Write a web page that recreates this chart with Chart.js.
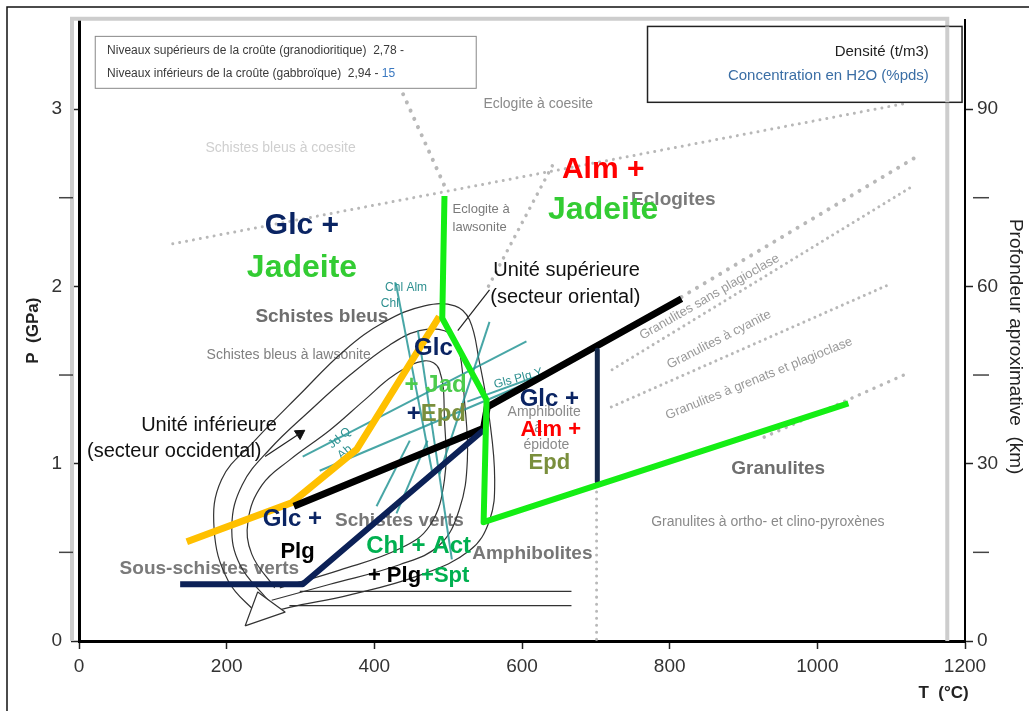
<!DOCTYPE html>
<html>
<head>
<meta charset="utf-8">
<script src="https://cdn.jsdelivr.net/npm/chart.js@4.4.1/dist/chart.umd.min.js"></script>
<style>
  html, body { margin: 0; padding: 0; background: #fff; overflow: hidden; }
  canvas { display: block; }
</style>
</head>
<body>
<canvas id="pt" width="1029" height="711"></canvas>
<script>
const FONT = "'Liberation Sans', Arial, Helvetica, sans-serif";

// ---- Axis ticks ----
const tempTicks = [0, 200, 400, 600, 800, 1000, 1200];      // °C
const pressureTicks = [0, 1, 2, 3];                          // GPa
const pressureMinorTicks = [0.5, 1.5, 2.5];
const depthTicks = [0, 30, 60, 90];                          // km
const depthMinorTicks = [15, 45, 75];

// ---- P-T paths (T in °C, P in GPa) ----
const yellowT = [146, 288, 376, 488];
const yellowP = [0.56, 0.78, 1.08, 1.83];
const blackT = [291, 548, 553, 816];
const blackP = [0.76, 1.20, 1.32, 1.93];
const navyT = [137, 303, 548];
const navyP = [0.32, 0.32, 1.19];
const navyBarT = [702, 702];
const navyBarP = [1.64, 0.90];
const greenT = [495, 492, 552, 548, 1042];
const greenP = [2.51, 1.82, 1.36, 0.67, 1.34];

// ---- Facies boundaries (dotted) ----
const coesiteBoundT = [127, 1117];
const coesiteBoundP = [2.24, 3.03];
const lawsoniteBoundT = [434, 498];
const lawsoniteBoundP = [3.13, 2.54];
const eclogiteBoundT = [641, 552];
const eclogiteBoundP = [2.68, 1.98];
const granPlagFreeT = [816, 1134];
const granPlagFreeP = [1.94, 2.73];
const granKyaniteT = [722, 1131];
const granKyaniteP = [1.53, 2.57];
const granGarnetT = [721, 1097];
const granGarnetP = [1.32, 2.01];
const granPyroxT = [928, 1117];
const granPyroxP = [1.15, 1.50];
const amphGranT = [701, 701];
const amphGranP = [0.88, 0.01];

// ---- Published P-T loops (thin lines) ----
const loopOuterT = [242, 202, 183, 193, 238, 299, 360, 414, 468, 509, 529, 542, 556, 563, 556, 529, 461, 367, 285, 248];
const loopOuterP = [0.15, 0.34, 0.63, 0.91, 1.13, 1.39, 1.64, 1.80, 1.89, 1.89, 1.81, 1.58, 1.25, 0.91, 0.68, 0.51, 0.37, 0.26, 0.19, 0.15];
const loopMidT = [256, 218, 207, 221, 258, 313, 367, 421, 461, 495, 513, 522, 526, 515, 488, 434, 340, 261];
const loopMidP = [0.23, 0.43, 0.65, 0.88, 1.08, 1.30, 1.50, 1.67, 1.75, 1.75, 1.67, 1.36, 1.02, 0.74, 0.54, 0.43, 0.32, 0.23];
const loopInnerT = [265, 234, 229, 248, 285, 340, 387, 427, 468, 488, 495, 495, 475, 434, 353, 272];
const loopInnerP = [0.30, 0.49, 0.68, 0.88, 1.02, 1.19, 1.36, 1.50, 1.58, 1.53, 1.25, 0.91, 0.65, 0.52, 0.40, 0.30];
const retroUpperT = [299, 667];
const retroUpperP = [0.28, 0.28];
const retroLowerT = [285, 667];
const retroLowerP = [0.20, 0.20];
const bigArrowT = [225, 242, 279, 225];
const bigArrowP = [0.085, 0.276, 0.163, 0.085];
const lowerPointerT = [252, 299];
const lowerPointerP = [1.04, 1.17];
const upperPointerT = [556, 513];
const upperPointerP = [1.98, 1.75];

// ---- Reaction curves (teal) ----
const reactions = [
  { T: [303, 606], P: [1.04, 1.69] },
  { T: [326, 644], P: [0.96, 1.52] },
  { T: [429, 478], P: [2.02, 0.96] },
  { T: [459, 505], P: [1.75, 0.46] },
  { T: [556, 488], P: [1.80, 0.94] },
  { T: [526, 645], P: [1.35, 1.53] },
  { T: [448, 403], P: [1.13, 0.76] },
  { T: [472, 430], P: [1.13, 0.72] }
];

const zip = (T, P) => T.map((t, i) => ({ x: t, y: P[i] }));

function path(T, P, opt) {
  return Object.assign({
    data: zip(T, P), showLine: true, pointRadius: 0, fill: false,
    borderJoinStyle: 'round', borderCapStyle: 'butt', tension: 0
  }, opt);
}
function dotted(T, P, w, gap, color) {
  return path(T, P, {
    borderColor: color || '#b8b8b8', borderWidth: w, borderDash: [0.01, gap],
    borderCapStyle: 'round', order: 20
  });
}

const datasets = [
  // thick paths (on top)
  path(greenT, greenP, { borderColor: '#14ee14', borderWidth: 6, order: 1 }),
  path(navyT, navyP, { borderColor: '#0c2157', borderWidth: 6, order: 2 }),
  path(blackT, blackP, { borderColor: '#000000', borderWidth: 7, order: 3 }),
  path(yellowT, yellowP, { borderColor: '#ffc000', borderWidth: 7, order: 4 }),
  path(navyBarT, navyBarP, { borderColor: '#14284a', borderWidth: 5, order: 2 }),
  // teal reaction curves
  ...reactions.map(r => path(r.T, r.P, { borderColor: 'rgba(40,150,150,0.85)', borderWidth: 2, order: 8 })),
  // thin loops and pointers
  path(loopOuterT, loopOuterP, { borderColor: '#333', borderWidth: 1.2, tension: 0.4, order: 9 }),
  path(loopMidT, loopMidP, { borderColor: '#333', borderWidth: 1.2, tension: 0.4, order: 9 }),
  path(loopInnerT, loopInnerP, { borderColor: '#333', borderWidth: 1.2, tension: 0.4, order: 9 }),
  path(retroUpperT, retroUpperP, { borderColor: '#333', borderWidth: 1.2, order: 9 }),
  path(retroLowerT, retroLowerP, { borderColor: '#333', borderWidth: 1.2, order: 9 }),
  path(bigArrowT, bigArrowP, { borderColor: '#333', borderWidth: 1.2, fill: 'shape', backgroundColor: '#ffffff', order: 7 }),
  path(lowerPointerT, lowerPointerP, { borderColor: '#222', borderWidth: 1.2, order: 9 }),
  path(upperPointerT, upperPointerP, { borderColor: '#222', borderWidth: 1.2, order: 9 }),
  { data: [{ x: lowerPointerT[1], y: lowerPointerP[1] }], showLine: false, pointStyle: 'triangle',
    pointRadius: 6, rotation: 57, backgroundColor: '#111', borderColor: '#111', order: 9 },
  // facies boundaries
  dotted(coesiteBoundT, coesiteBoundP, 3, 7),
  dotted(lawsoniteBoundT, lawsoniteBoundP, 4, 9),
  dotted(eclogiteBoundT, eclogiteBoundP, 3.5, 8),
  dotted(granPlagFreeT, granPlagFreeP, 4, 9),
  dotted(granKyaniteT, granKyaniteP, 3, 6),
  dotted(granGarnetT, granGarnetP, 3, 6),
  dotted(granPyroxT, granPyroxP, 3.5, 8),
  dotted(amphGranT, amphGranP, 3, 7)
];

// ---- Text annotations ----
const underLabels = [
  { t: 'Eclogite à coesite', T: 622, P: 3.03, size: 14, color: '#8a8a8a' },
  { t: 'Schistes bleus à coesite', T: 273, P: 2.78, size: 14, color: '#cfcfcf' },
  { t: 'Eclogite à', T: 506, P: 2.435, size: 13, color: '#7a7a7a', align: 'left' },
  { t: 'lawsonite', T: 506, P: 2.333, size: 13, color: '#7a7a7a', align: 'left' },
  { t: 'Eclogites', T: 805, P: 2.49, size: 19, bold: true, color: '#7a7a7a' },
  { t: 'Schistes bleus', T: 329, P: 1.83, size: 19, bold: true, color: '#6e6e6e' },
  { t: 'Schistes bleus à lawsonite', T: 284, P: 1.61, size: 14, color: '#808080' },
  { t: 'Amphibolite', T: 630, P: 1.29, size: 14, color: '#8a8a8a' },
  { t: 'à', T: 622, P: 1.20, size: 14, color: '#8a8a8a' },
  { t: 'épidote', T: 633, P: 1.105, size: 14, color: '#8a8a8a' },
  { t: 'Schistes verts', T: 434, P: 0.676, size: 19, bold: true, color: '#777' },
  { t: 'Amphibolites', T: 614, P: 0.49, size: 19, bold: true, color: '#777' },
  { t: 'Sous-schistes verts', T: 55, P: 0.41, size: 19, bold: true, color: '#7a7a7a', align: 'left' },
  { t: 'Granulites', T: 947, P: 0.969, size: 19, bold: true, color: '#6e6e6e' },
  { t: 'Granulites à ortho- et clino-pyroxènes', T: 933, P: 0.671, size: 14, color: '#8a8a8a' },
  { t: 'Granulites sans plagioclase', T: 854, P: 1.94, size: 13, color: '#999', rot: -30 },
  { t: 'Granulites à cyanite', T: 867, P: 1.70, size: 13, color: '#999', rot: -27 },
  { t: 'Granulites à grenats et plagioclase', T: 921, P: 1.48, size: 13, color: '#999', rot: -22 },
  { t: 'Chl Alm', T: 443, P: 1.99, size: 12, color: '#2e9090' },
  { t: 'Chl', T: 421, P: 1.905, size: 12, color: '#2e9090' },
  { t: 'Gls Plg Y', T: 595, P: 1.48, size: 12, color: '#2e9090', rot: -15 },
  { t: 'Jd Q', T: 353, P: 1.144, size: 12, color: '#2e9090', rot: -40 },
  { t: 'Ab', T: 360, P: 1.065, size: 12, color: '#2e9090', rot: -40 }
];

const overLabels = [
  { t: 'Unité supérieure', T: 561, P: 2.09, size: 20, color: '#111', align: 'left' },
  { t: '(secteur oriental)', T: 557, P: 1.94, size: 20, color: '#111', align: 'left' },
  { t: 'Unité inférieure', T: 176, P: 1.217, size: 20, color: '#111' },
  { t: '(secteur occidental)', T: 129, P: 1.071, size: 20, color: '#111' },
  { runs: [['Glc +', '#0a2463']], T: 302, P: 2.34, size: 30 },
  { runs: [['Jadeite', '#33cc33']], T: 302, P: 2.10, size: 32 },
  { runs: [['Alm +', '#ff0000']], T: 710, P: 2.655, size: 30 },
  { runs: [['Jadeite', '#33cc33']], T: 710, P: 2.43, size: 32 },
  { runs: [['Glc', '#0a2463']], T: 480, P: 1.65, size: 24 },
  { runs: [['+ Jad', '#4ccc4c']], T: 483, P: 1.443, size: 24 },
  { runs: [['+', '#0a2463'], ['Epd', '#7a8f3c']], T: 484, P: 1.279, size: 24 },
  { runs: [['Glc +', '#0a2463']], T: 637, P: 1.364, size: 24 },
  { runs: [['Alm +', '#ff0000']], T: 639, P: 1.189, size: 22 },
  { runs: [['Epd', '#7a8f3c']], T: 637, P: 1.003, size: 22 },
  { runs: [['Glc +', '#0a2463']], T: 289, P: 0.688, size: 24 },
  { runs: [['Plg', '#000000']], T: 296, P: 0.502, size: 22 },
  { runs: [['Chl + Act', '#00b050']], T: 460, P: 0.535, size: 24 },
  { runs: [['+ Plg', '#000000'], ['+Spt', '#00b050']], T: 460, P: 0.366, size: 22 }
];

// Inset boxes (density / water content)
const crustBox = { T0: 22, T1: 538, P0: 3.41, P1: 3.117 };
const crustLines = [
  { runs: [['Niveaux supérieurs de la croûte (granodioritique)  2,78 -', '#3a3a3a']], T: 38, P: 3.331 },
  { runs: [['Niveaux inférieurs de la croûte (gabbroïque)  2,94 - ', '#3a3a3a'], ['15', '#3a78c0']], T: 38, P: 3.201 }
];
const legendBox = { T0: 770, T1: 1196, P0: 3.466, P1: 3.038 };
const legendLines = [
  { t: 'Densité (t/m3)', color: '#222', T: 1151, P: 3.325 },
  { t: 'Concentration en H2O (%pds)', color: '#3a6ea5', T: 1151, P: 3.19 }
];

function setFont(ctx, size, bold) {
  ctx.font = (bold ? 'bold ' : '') + size + 'px ' + FONT;
}
function drawLabel(ctx, x, y, L) {
  ctx.save();
  ctx.translate(x, y);
  if (L.rot) ctx.rotate(L.rot * Math.PI / 180);
  setFont(ctx, L.size, L.bold);
  ctx.fillStyle = L.color;
  ctx.textAlign = L.align || 'center';
  ctx.textBaseline = 'middle';
  ctx.fillText(L.t, 0, 0);
  ctx.restore();
}
function drawRuns(ctx, x, y, runs, size, bold, align) {
  setFont(ctx, size, bold);
  const widths = runs.map(r => ctx.measureText(r[0]).width);
  const total = widths.reduce((a, b) => a + b, 0);
  let cx = align === 'left' ? x : x - total / 2;
  ctx.textAlign = 'left';
  ctx.textBaseline = 'middle';
  runs.forEach((r, i) => { ctx.fillStyle = r[1]; ctx.fillText(r[0], cx, y); cx += widths[i]; });
}

const decor = {
  id: 'decor',
  beforeDatasetsDraw(chart) {
    const { ctx, scales: { x, y } } = chart;
    ctx.save();
    // light frame of the facies grid
    ctx.strokeStyle = '#cdcdcd';
    ctx.lineWidth = 4;
    ctx.beginPath();
    ctx.moveTo(x.getPixelForValue(-9.5), y.getPixelForValue(0));
    ctx.lineTo(x.getPixelForValue(-9.5), y.getPixelForValue(3.51));
    ctx.lineTo(x.getPixelForValue(1176), y.getPixelForValue(3.51));
    ctx.lineTo(x.getPixelForValue(1176), y.getPixelForValue(0));
    ctx.stroke();
    underLabels.forEach(L => drawLabel(ctx, x.getPixelForValue(L.T), y.getPixelForValue(L.P), L));
    ctx.restore();
  },
  afterDatasetsDraw(chart) {
    const { ctx, scales: { x, y } } = chart;
    ctx.save();
    overLabels.forEach(L => {
      const px = x.getPixelForValue(L.T), py = y.getPixelForValue(L.P);
      if (L.runs) drawRuns(ctx, px, py, L.runs, L.size, true);
      else drawLabel(ctx, px, py, L);
    });
    // inset boxes
    const box = (b, w, c) => {
      const x0 = x.getPixelForValue(b.T0), x1 = x.getPixelForValue(b.T1);
      const y0 = y.getPixelForValue(b.P0), y1 = y.getPixelForValue(b.P1);
      ctx.fillStyle = '#fff';
      ctx.fillRect(x0, y0, x1 - x0, y1 - y0);
      ctx.strokeStyle = c; ctx.lineWidth = w;
      ctx.strokeRect(x0, y0, x1 - x0, y1 - y0);
    };
    box(crustBox, 1, '#888');
    crustLines.forEach(l => drawRuns(ctx, x.getPixelForValue(l.T), y.getPixelForValue(l.P), l.runs, 12, false, 'left'));
    box(legendBox, 1.5, '#222');
    ctx.strokeStyle = '#cdcdcd'; ctx.lineWidth = 4;
    ctx.beginPath();
    ctx.moveTo(x.getPixelForValue(1176), y.getPixelForValue(legendBox.P0));
    ctx.lineTo(x.getPixelForValue(1176), y.getPixelForValue(legendBox.P1));
    ctx.stroke();
    legendLines.forEach(l => drawLabel(ctx, x.getPixelForValue(l.T), y.getPixelForValue(l.P),
      { t: l.t, size: 15, color: l.color, align: 'right' }));
    ctx.restore();
  },
  afterDraw(chart) {
    const { ctx, chartArea: a, scales: { x, y, y2 } } = chart;
    ctx.save();
    // minor ticks
    ctx.strokeStyle = '#444'; ctx.lineWidth = 1.5;
    pressureMinorTicks.forEach(v => {
      const py = y.getPixelForValue(v);
      ctx.beginPath(); ctx.moveTo(a.left - 20, py); ctx.lineTo(a.left - 6, py); ctx.stroke();
    });
    depthMinorTicks.forEach(v => {
      const py = y2.getPixelForValue(v);
      ctx.beginPath(); ctx.moveTo(a.right + 8, py); ctx.lineTo(a.right + 24, py); ctx.stroke();
    });
    // axis titles
    ctx.fillStyle = '#222';
    ctx.textAlign = 'center'; ctx.textBaseline = 'middle';
    ctx.save();
    ctx.translate(33, y.getPixelForValue(1.75));
    ctx.rotate(-Math.PI / 2);
    setFont(ctx, 17, true);
    ctx.fillText('P  (GPa)', 0, 0);
    ctx.restore();
    ctx.save();
    ctx.translate(1015, y.getPixelForValue(1.66));
    ctx.rotate(Math.PI / 2);
    setFont(ctx, 19, false);
    ctx.fillText('Profondeur aproximative  (km)', 0, 0);
    ctx.restore();
    setFont(ctx, 17, true);
    ctx.fillText('T  (°C)', x.getPixelForValue(1171), a.bottom + 52);
    // page frame
    ctx.strokeStyle = '#111'; ctx.lineWidth = 1.5;
    ctx.beginPath();
    ctx.moveTo(7, 711); ctx.lineTo(7, 7); ctx.lineTo(1029, 7);
    ctx.stroke();
    ctx.restore();
  }
};

const tickFont = { family: FONT, size: 19 };
const plain = v => String(v);

new Chart(document.getElementById('pt'), {
  type: 'scatter',
  data: { datasets },
  options: {
    responsive: false,
    animation: false,
    devicePixelRatio: 1,
    layout: { padding: { top: 20, left: 0, right: 0, bottom: 0 } },
    plugins: { legend: { display: false }, tooltip: { enabled: false } },
    scales: {
      x: {
        type: 'linear', min: 0, max: 1200,
        afterBuildTicks: s => { s.ticks = tempTicks.map(v => ({ value: v })); },
        afterFit: s => { s.height = 70; },
        ticks: { color: '#333', font: tickFont, padding: 6, maxRotation: 0, autoSkip: false, callback: plain },
        grid: { drawOnChartArea: false, drawTicks: true, tickLength: 8, tickColor: '#222', tickWidth: 1.5 },
        border: { display: true, color: '#000', width: 3 }
      },
      y: {
        type: 'linear', position: 'left', min: 0, max: 3.5,
        afterBuildTicks: s => { s.ticks = pressureTicks.map(v => ({ value: v })); },
        afterFit: s => { s.width = 79; },
        ticks: { color: '#333', font: tickFont, padding: 9, autoSkip: false, callback: plain },
        grid: { drawOnChartArea: false, drawTicks: true, tickLength: 8, tickColor: '#222', tickWidth: 1.5 },
        border: { display: true, color: '#000', width: 3 }
      },
      y2: {
        type: 'linear', position: 'right', min: 0, max: 105,
        afterBuildTicks: s => { s.ticks = depthTicks.map(v => ({ value: v })); },
        afterFit: s => { s.width = 64; },
        ticks: { color: '#333', font: tickFont, padding: 4, autoSkip: false, callback: plain },
        grid: { drawOnChartArea: false, drawTicks: true, tickLength: 8, tickColor: '#222', tickWidth: 1.5 },
        border: { display: true, color: '#000', width: 2 }
      }
    }
  },
  plugins: [decor]
});
</script>
</body>
</html>
